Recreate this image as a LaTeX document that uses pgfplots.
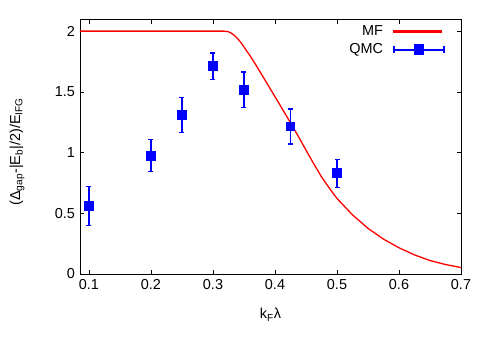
\documentclass[border=0pt]{standalone}
\usepackage{pgfplots}
\pgfplotsset{compat=1.18}
\usepackage{fontspec}
\setmainfont{Liberation Sans}
\definecolor{mfred}{rgb}{1,0,0}
\definecolor{qmcblue}{rgb}{0,0,1}

\pgfplotstableread{
x y e
0.1 0.56 0.16
0.2 0.975 0.13
0.25 1.31 0.145
0.3 1.71 0.11
0.35 1.518 0.145
0.425 1.215 0.145
0.5 0.83 0.115
}\qmc

\pgfplotstableread{
x y
0.0855 2.0
0.318 2.0
0.325 1.995
0.33 1.982
0.335 1.963
0.34 1.937
0.345 1.906
0.35 1.870
0.36 1.795
0.37 1.715
0.38 1.630
0.39 1.545
0.40 1.460
0.41 1.375
0.425 1.245
0.44 1.112
0.45 1.020
0.46 0.930
0.475 0.800
0.49 0.690
0.50 0.622
0.525 0.487
0.55 0.376
0.575 0.287
0.60 0.216
0.625 0.157
0.65 0.111
0.675 0.078
0.70 0.053
}\mf

\begin{document}
\fontsize{14.5}{17}\selectfont
\begin{tikzpicture}
\path[use as bounding box] (-80bp,-69bp) rectangle (411bp,274bp);
\begin{axis}[
  scale only axis,
  width=381bp, height=255bp,
  xmin=0.0855, xmax=0.7, ymin=0, ymax=2.1,
  xtick={0.1,0.2,0.3,0.4,0.5,0.6,0.7},
  ytick={0,0.5,1,1.5,2},
  tick align=inside,
  major tick length=4.5bp,
  axis line style={black, line width=0.8pt},
  every tick/.style={black, line width=0.6pt},
  /pgf/number format/assume math mode=true,
  ticklabel style={font=\fontsize{14.5}{17}\selectfont},
  label style={font=\fontsize{14.5}{17}\selectfont},
  xlabel={k\textsubscript{F}λ},
  ylabel={(Δ\textsubscript{gap}-|E\textsubscript{b}|/2)/E\textsubscript{IFG}},
  xlabel style={at={(axis description cs:0.5,-0.16)}, anchor=center},
  ylabel style={at={(axis description cs:-0.165,0.48)}, anchor=center},
  legend plot pos=right,
  legend cell align=right,
  legend style={at={(rel axis cs:0.965,0.99)}, anchor=north east, draw=none, fill=none,
    font=\fontsize{14.5}{17}\selectfont, row sep=1.5bp},
]
\addlegendimage{mfred, line width=1.3pt, legend image code/.code={
  \fill[white, opacity=0] (-8bp,-0.5bp) rectangle (48bp,0.5bp);
  \fill[mfred] (0bp,-0.65bp) rectangle (48bp,0.65bp);}}
\addlegendentry{MF}
\addlegendimage{qmcblue, legend image code/.code={
  \fill[white, opacity=0] (-8bp,-0.5bp) rectangle (50bp,0.5bp);
  \fill[qmcblue] (0bp,-0.65bp) rectangle (50bp,0.65bp);
  \fill[qmcblue] (-0.65bp,-2.8bp) rectangle (0.65bp,2.8bp);
  \fill[qmcblue] (49.35bp,-2.8bp) rectangle (50.65bp,2.8bp);
  \fill[qmcblue] (20.2bp,-4.9bp) rectangle (29.8bp,4.9bp);}}
\addlegendentry{QMC}
\addplot[mfred, line width=1.3pt, no marks, forget plot]
  table[x=x, y=y] {\mf};
\addplot[qmcblue, only marks, mark=square*, mark size=4.3bp, line width=1.3pt,
  mark options={fill=qmcblue, draw=qmcblue}, forget plot,
  error bars/.cd, y dir=both, y explicit,
  error bar style={qmcblue, line width=1.3pt},
  error mark options={rotate=90, qmcblue, mark size=2.5bp, line width=1.3pt}]
  table[x=x, y=y, y error=e] {\qmc};
\end{axis}
\end{tikzpicture}
\end{document}
